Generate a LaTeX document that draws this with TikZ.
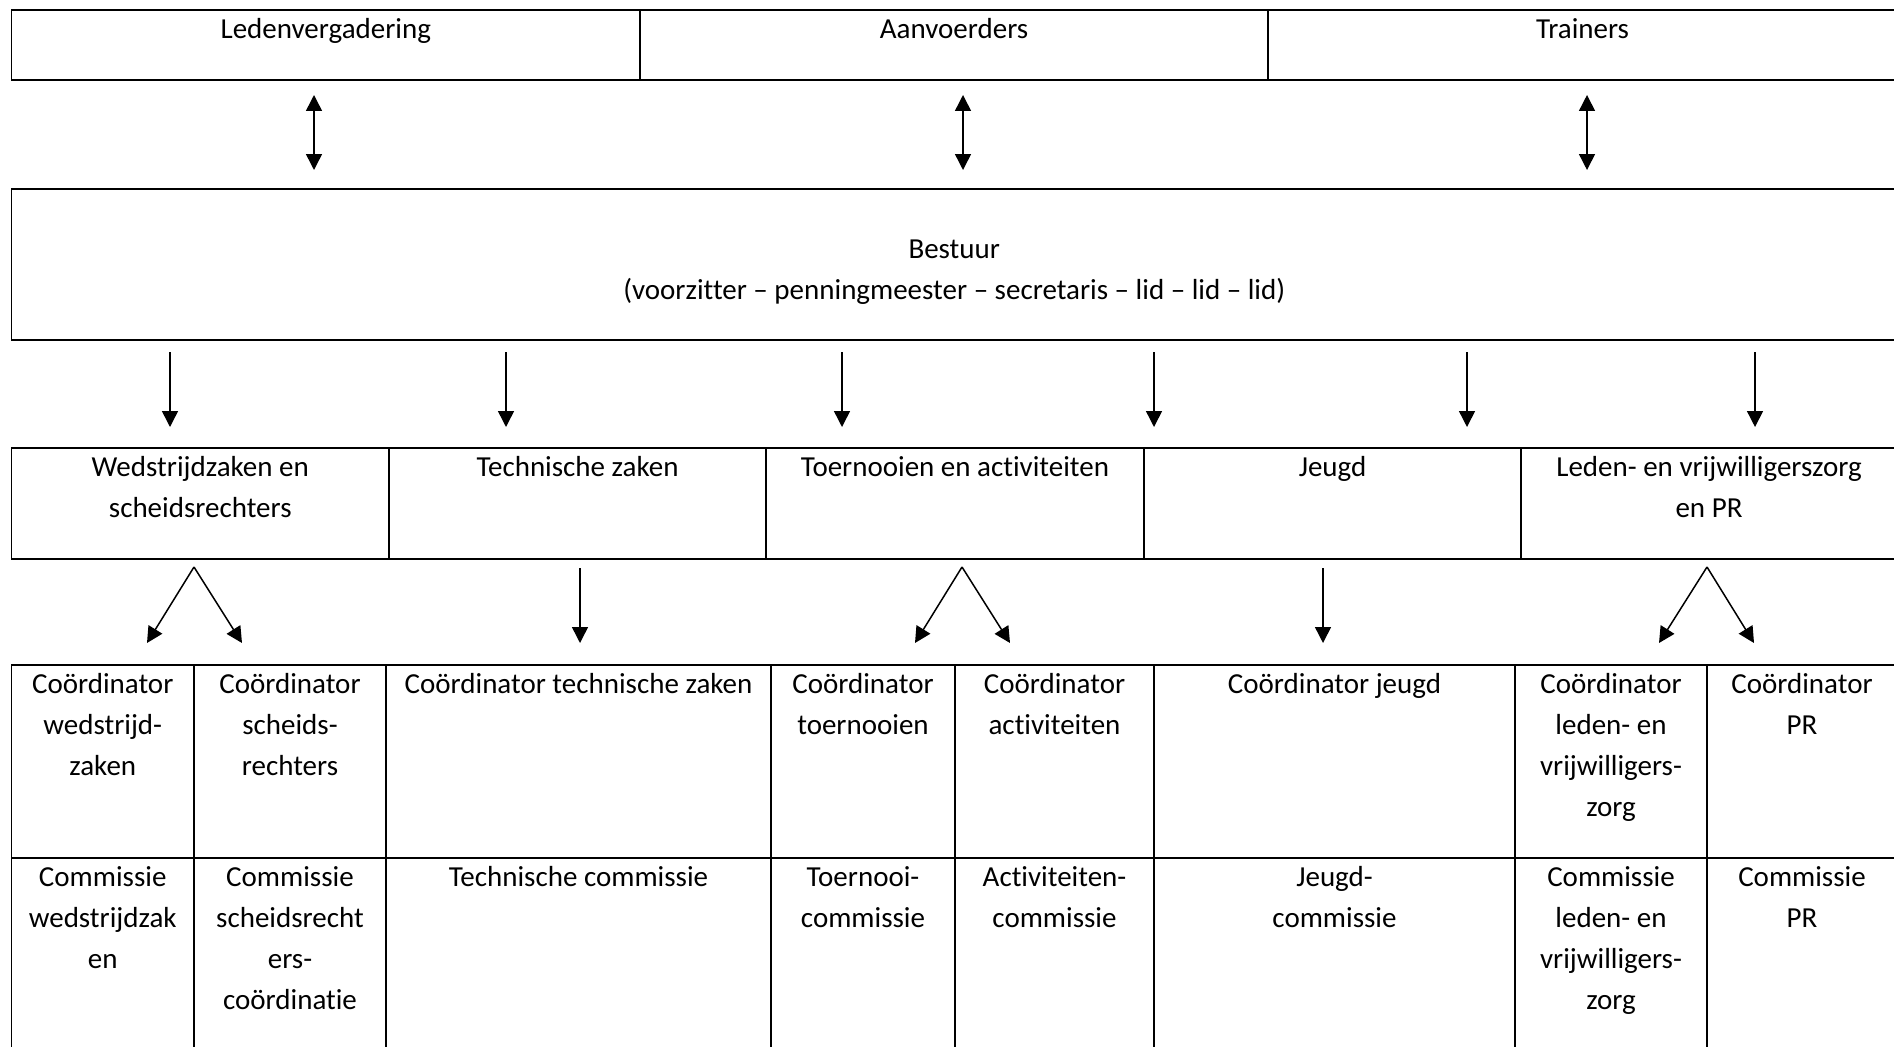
\documentclass[tikz,border=0pt]{standalone}
\usepackage{fontspec}
\setmainfont{Carlito}[Ligatures=NoCommon]
\usetikzlibrary{arrows.meta}
\tikzset{
  cellbox/.style={draw, line width=1.8pt, inner sep=0pt, outer sep=0pt},
  celltext/.style={font=\fontsize{29}{41}\selectfont, inner sep=0pt, outer sep=0pt, align=center},
  arr/.style={line width=1.5pt, -{Triangle[length=16pt,width=16pt]}},
  darr/.style={line width=1.5pt, {Triangle[length=16pt,width=16pt]}-{Triangle[length=16pt,width=16pt]}}
}
\newcommand\mycell[7]{%
  \pgfmathsetmacro\cw{#4-#2}\pgfmathsetmacro\ch{#5-#3}%
  \node[cellbox,minimum width=\cw pt,minimum height=\ch pt,anchor=north west] (#1) at (#2,#3) {};
  \node[celltext,anchor=north] (#1t) at ([yshift=-#6pt]#1.north) {\strut #7};}
\begin{document}
\begin{tikzpicture}[x=1pt,y=-1pt]
\useasboundingbox (0,0) rectangle (1894,1046);
\clip (0,0) rectangle (1894,1046);
% top row
\mycell{led}{11.5}{10}{640}{80}{0}{Ledenvergadering}
\mycell{aan}{640}{10}{1268}{80}{0}{Aanvoerders}
\mycell{tra}{1268}{10}{1897}{80}{0}{Trainers}
% bestuur
\mycell{bes}{11.5}{189}{1897}{340}{41}{Bestuur\\(voorzitter – penningmeester – secretaris – lid – lid – lid)}
% row 3
\mycell{wed}{11.5}{448}{389}{559}{0}{Wedstrijdzaken en\\scheidsrechters}
\mycell{tec}{389}{448}{766}{559}{0}{Technische zaken}
\mycell{toe}{766}{448}{1144}{559}{0}{Toernooien en activiteiten}
\mycell{jeu}{1144}{448}{1521}{559}{0}{Jeugd}
\mycell{lvz}{1521}{448}{1897}{559}{0}{Leden- en vrijwilligerszorg\\en PR}
% row 4
\mycell{cwz}{11.5}{665}{194}{858}{0}{Coördinator\\wedstrijd-\\zaken}
\mycell{csr}{194}{665}{386}{858}{0}{Coördinator\\scheids-\\rechters}
\mycell{ctz}{386}{665}{771}{858}{0}{Coördinator technische zaken}
\mycell{cto}{771}{665}{955}{858}{0}{Coördinator\\toernooien}
\mycell{cac}{955}{665}{1154}{858}{0}{Coördinator\\activiteiten}
\mycell{cje}{1154}{665}{1515}{858}{0}{Coördinator jeugd}
\mycell{clv}{1515}{665}{1707}{858}{0}{Coördinator\\leden- en\\vrijwilligers-\\zorg}
\mycell{cpr}{1707}{665}{1897}{858}{0}{Coördinator\\PR}
% row 5
\mycell{kwz}{11.5}{858}{194}{1052}{0}{Commissie\\wedstrijdzak\\en}
\mycell{ksr}{194}{858}{386}{1052}{0}{Commissie\\scheidsrecht\\ers-\\coördinatie}
\mycell{ktc}{386}{858}{771}{1052}{0}{Technische commissie}
\mycell{kto}{771}{858}{955}{1052}{0}{Toernooi-\\commissie}
\mycell{kac}{955}{858}{1154}{1052}{0}{Activiteiten-\\commissie}
\mycell{kje}{1154}{858}{1515}{1052}{0}{Jeugd-\\commissie}
\mycell{klv}{1515}{858}{1707}{1052}{0}{Commissie\\leden- en\\vrijwilligers-\\zorg}
\mycell{kpr}{1707}{858}{1897}{1052}{0}{Commissie\\PR}
% double arrows
\coordinate (d1a) at (314,95);  \coordinate (d1b) at (314,170);
\coordinate (d2a) at (963,95);  \coordinate (d2b) at (963,170);
\coordinate (d3a) at (1587,95); \coordinate (d3b) at (1587,170);
\draw[darr] (d1a) -- (d1b);
\draw[darr] (d2a) -- (d2b);
\draw[darr] (d3a) -- (d3b);
% arrows from bestuur
\foreach \i/\x in {1/170,2/506,3/842,4/1154,5/1467,6/1755}{
  \coordinate (b\i a) at (\x,352); \coordinate (b\i b) at (\x,427);
  \draw[arr] (b\i a) -- (b\i b);
}
% split arrows
\coordinate (s1) at (194,567);  \coordinate (s1l) at (147,643);  \coordinate (s1r) at (242,643);
\coordinate (s2) at (962,567);  \coordinate (s2l) at (915,643);  \coordinate (s2r) at (1010,643);
\coordinate (s3) at (1707,567); \coordinate (s3l) at (1659,643); \coordinate (s3r) at (1754,643);
\draw[arr] (s1) -- (s1l); \draw[arr] (s1) -- (s1r);
\draw[arr] (s2) -- (s2l); \draw[arr] (s2) -- (s2r);
\draw[arr] (s3) -- (s3l); \draw[arr] (s3) -- (s3r);
\coordinate (t1a) at (580,568);  \coordinate (t1b) at (580,643);
\coordinate (t2a) at (1323,568); \coordinate (t2b) at (1323,643);
\draw[arr] (t1a) -- (t1b);
\draw[arr] (t2a) -- (t2b);
\end{tikzpicture}
\end{document}
